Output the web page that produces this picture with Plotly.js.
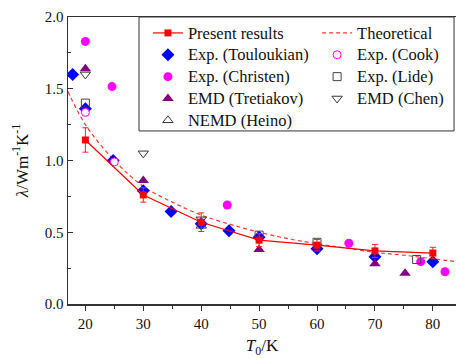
<!DOCTYPE html>
<html><head><meta charset="utf-8">
<script src="https://cdn.plot.ly/plotly-3.0.1.min.js"></script>
<style>html,body{margin:0;padding:0;background:#fff}#c{width:456px;height:358px}</style>
</head><body><div id="c"></div>
<script>
// Present results (MD)
const presT = [20, 30, 40, 50, 60, 70, 80];
const presL = [1.143, 0.76, 0.57, 0.445, 0.41, 0.37, 0.355];
const presErr = [0.085, 0.05, 0.065, 0.045, 0.04, 0.045, 0.04];
// Theoretical curve
const theoT = [17, 20, 25, 30, 35, 40, 45, 50, 55, 60, 65, 70, 75, 80, 84];
const theoL = [1.48, 1.25, 1.0, 0.82, 0.71, 0.62, 0.555, 0.50, 0.455, 0.42, 0.39, 0.36, 0.34, 0.315, 0.295];
// Exp. (Touloukian)
const touT = [17.8, 20, 24.8, 30, 34.8, 40, 44.8, 50, 60, 70, 80];
const touL = [1.60, 1.36, 1.0, 0.79, 0.645, 0.56, 0.51, 0.465, 0.385, 0.33, 0.295];
// Exp. (Christen)
const chrT = [20, 24.6, 44.5, 65.5, 77.9, 82.1];
const chrL = [1.83, 1.515, 0.69, 0.423, 0.295, 0.225];
// EMD (Tretiakov)
const treT = [20, 30, 50, 70, 75.2];
const treL = [1.64, 0.86, 0.38, 0.28, 0.215];
// Exp. (Cook)
const cookT = [20, 25];
const cookL = [1.335, 0.99];
// Exp. (Lide)
const lideT = [20, 50, 60, 77.2];
const lideL = [1.40, 0.48, 0.43, 0.31];
// EMD (Chen)
const chenT = [20, 30, 40];
const chenL = [1.60, 1.05, 0.59];
// NEMD (Heino)
const heinoT = [40];
const heinoL = [0.545];

const xTicks = [20, 30, 40, 50, 60, 70, 80];
const yTicks = [0.0, 0.5, 1.0, 1.5, 2.0];
const yTickText = ['0.0', '0.5', '1.0', '1.5', '2.0'];

const F = 'Liberation Serif, Times New Roman, serif';
const nm = s => '<span style="font-size:16.5px">' + s + '</span>';

const traces = [
  {name:nm('Theoretical'), x:theoT, y:theoL, mode:'lines', type:'scatter', legend:'legend2', legendrank:1,
   line:{color:'#f03838', width:1.2, dash:'4px,3px', shape:'spline'}},
  {name:nm('Exp. (Touloukian)'), x:touT, y:touL, mode:'markers', type:'scatter', legendrank:2,
   marker:{symbol:'diamond', size:10, color:'#0000ff'}},
  {name:nm('Exp. (Christen)'), x:chrT, y:chrL, mode:'markers', type:'scatter', legendrank:3,
   marker:{symbol:'circle', size:9, color:'#ff00ff'}},
  {name:nm('EMD (Tretiakov)'), x:treT, y:treL, mode:'markers', type:'scatter', legendrank:4,
   marker:{symbol:'triangle-up', size:10, color:'#800080'}},
  {name:nm('Exp. (Cook)'), x:cookT, y:cookL, mode:'markers', type:'scatter', legend:'legend2', legendrank:2,
   marker:{symbol:'circle', size:8, color:'#ffffff', line:{color:'#ff00ff', width:1}}},
  {name:nm('Exp. (Lide)'), x:lideT, y:lideL, mode:'markers', type:'scatter', legend:'legend2', legendrank:3,
   marker:{symbol:'square-open', size:8, color:'#444', line:{width:1}}},
  {name:nm('EMD (Chen)'), x:chenT, y:chenL, mode:'markers', type:'scatter', legend:'legend2', legendrank:4,
   marker:{symbol:'triangle-down-open', size:9, color:'#333', line:{width:1}}},
  {name:nm('NEMD (Heino)'), x:heinoT, y:heinoL, mode:'markers', type:'scatter', legendrank:5,
   marker:{symbol:'triangle-up-open', size:9, color:'#333', line:{width:1}}},
  {name:nm('Present results'), x:presT, y:presL, mode:'lines+markers', type:'scatter', legendrank:0,
   line:{color:'#ff0000', width:1.2},
   marker:{symbol:'square', size:7, color:'#ff0000'},
   error_y:{type:'data', array:presErr, visible:true, color:'#ff2020', thickness:1, width:3}}
];

const axisCommon = {
  showgrid:false, zeroline:false, showline:true, linecolor:'#333', linewidth:1.5,
  tickcolor:'#333', tickfont:{family:F, size:15, color:'#111'}
};
const legCommon = {y:1, xanchor:'left', yanchor:'top', orientation:'v',
  bgcolor:'rgba(0,0,0,0)', borderwidth:0, tracegroupgap:0,
  font:{family:F, size:14.5, color:'#111'}, traceorder:'normal'};
const layout = {
  width:456, height:358,
  margin:{l:68, r:0, t:17, b:54},
  paper_bgcolor:'#fff', plot_bgcolor:'#fff',
  font:{family:F, color:'#111'},
  showlegend:true,
  legend:Object.assign({x:0.206}, legCommon),
  legend2:Object.assign({x:0.642}, legCommon),
  shapes:[{type:'rect', xref:'paper', yref:'paper', x0:0.183, x1:0.995, y0:0.603, y1:1,
    fillcolor:'#fff', line:{color:'#333', width:1}, layer:'above'}],
  xaxis:Object.assign({}, axisCommon, {
    range:[17, 84], tickvals:xTicks, ticks:'outside', ticklen:5, mirror:true,
    minor:{ticks:'outside', ticklen:3, dtick:5, tickcolor:'#333'},
    title:{text:'<i>T</i><sub>0</sub>/K', font:{family:F, size:17, color:'#111'}, standoff:10}
  }),
  yaxis:Object.assign({}, axisCommon, {
    range:[0, 2], tickvals:yTicks, ticktext:yTickText,
    ticks:'inside', ticklen:5,
    minor:{ticks:'inside', ticklen:3, dtick:0.25, tickcolor:'#333'},
    title:{text:'<i>λ</i>/Wm<sup>-1</sup>K<sup>-1</sup>', font:{family:F, size:17, color:'#111'}, standoff:12}
  })
};
Plotly.newPlot('c', traces, layout, {displayModeBar:false, staticPlot:true});
</script>
</body></html>
